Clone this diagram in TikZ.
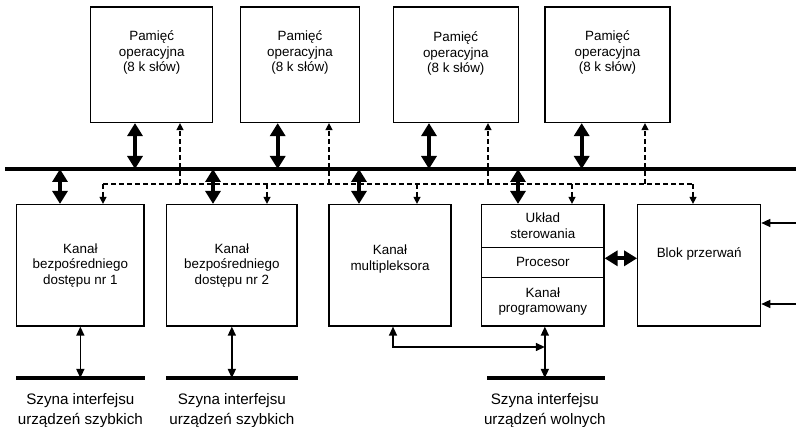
\documentclass[tikz,border=0pt]{standalone}
\usepackage{fontspec}
\setmainfont{Liberation Sans}
\usetikzlibrary{arrows.meta}

\begin{document}
\begin{tikzpicture}[x=1pt,y=-1pt]
        \tikzstyle{every node}=[font=\fontsize{13.4}{15.5}\selectfont,inner sep=0pt]
        \tikzstyle{box}=[draw,line width=1.2pt,align=center]
        \tikzstyle{txt}=[align=center]
        \tikzstyle{szyna}=[align=center,font=\fontsize{15.2}{20}\selectfont]
        \tikzstyle{bus}=[line width=4.5pt]
        \tikzstyle{fat}=[line width=4pt,{Triangle[length=13pt,width=15pt]}-{Triangle[length=13pt,width=15pt]}]
        \tikzstyle{wire}=[line width=1.3pt,{Triangle[length=9pt,width=8pt]}-{Triangle[length=9pt,width=8pt]}]
        \tikzstyle{wire1}=[line width=1.3pt,-{Triangle[length=9pt,width=8pt]}]
        \tikzstyle{ctl}=[line width=1.3pt,dash pattern=on 5pt off 3pt]
        \tikzstyle{ctlarr}=[ctl,-{Triangle[length=7pt,width=7pt]}]

        \useasboundingbox (0,0) rectangle (796,427);

        \coordinate (busL) at (5,169);
        \coordinate (busR) at (796,169);
        \coordinate (bus) at (0,169);
        \coordinate (ctrl) at (0,184);
        \coordinate (mux) at (0,347);
        \coordinate (sbus) at (0,378);
        \coordinate (capy) at (0,411);
        \coordinate (in1) at (796,223);
        \coordinate (in2) at (796,304);

        % pamieci
        \node[box,minimum width=122pt,minimum height=115.5pt] (m1) at (151.7,64.75) {};
        \node[box,minimum width=118.6pt,minimum height=115.5pt] (m2) at (300,64.75) {};
        \node[box,minimum width=125pt,minimum height=115.5pt] (m3) at (455.8,64.75) {};
        \node[box,minimum width=125pt,minimum height=115.5pt] (m4) at (607.5,64.75) {};
        \node[txt] (m1t) at ([yshift=12pt]m1.center) {Pamięć\\operacyjna\\(8 k słów)};
        \node[txt] (m2t) at ([yshift=12pt]m2.center) {Pamięć\\operacyjna\\(8 k słów)};
        \node[txt] (m3t) at ([yshift=11pt]m3.center) {Pamięć\\operacyjna\\(8 k słów)};
        \node[txt] (m4t) at ([yshift=12pt]m4.center) {Pamięć\\operacyjna\\(8 k słów)};

        % kanaly
        \node[box,minimum width=127.3pt,minimum height=121.5pt] (k1) at (80.35,265.25) {Kanał\\bezpośredniego\\dostępu nr 1};
        \node[box,minimum width=130.3pt,minimum height=121.5pt] (k2) at (231.85,265.25) {Kanał\\bezpośredniego\\dostępu nr 2};
        \node[box,minimum width=122pt,minimum height=121.5pt] (km) at (390,265.25) {};
        \node[txt] (kmt) at ([yshift=6pt]km.center) {Kanał\\multipleksora};
        \node[box,minimum width=122.3pt,minimum height=42.8pt] (uk) at (542.85,225.9) {Układ\\sterowania};
        \node[box,minimum width=122.3pt,minimum height=30pt] (pr) at (542.85,262.3) {Procesor};
        \node[box,minimum width=122.3pt,minimum height=48.7pt] (kp) at (542.85,301.65) {Kanał\\programowany};
        \node[box,minimum width=123pt,minimum height=121.5pt] (blok) at (699.2,265.25) {};
        \node[txt] (blokt) at ([yshift=11pt]blok.center) {Blok przerwań};

        % sterowanie
        \draw[ctl] ([xshift=22.65pt]k1.north |- ctrl) -- ([xshift=-6.2pt]blok.north |- ctrl);
        \draw[ctlarr] ([xshift=28.3pt]m1.south |- ctrl) -- ([xshift=28.3pt]m1.south);
        \draw[ctlarr] ([xshift=29pt]m2.south |- ctrl) -- ([xshift=29pt]m2.south);
        \draw[ctlarr] ([xshift=32.2pt]m3.south |- ctrl) -- ([xshift=32.2pt]m3.south);
        \draw[ctlarr] ([xshift=37.5pt]m4.south |- ctrl) -- ([xshift=37.5pt]m4.south);
        \draw[ctlarr] ([xshift=22.65pt]k1.north |- ctrl) -- ([xshift=22.65pt]k1.north);
        \draw[ctlarr] ([xshift=35.15pt]k2.north |- ctrl) -- ([xshift=35.15pt]k2.north);
        \draw[ctlarr] ([xshift=27pt]km.north |- ctrl) -- ([xshift=27pt]km.north);
        \draw[ctlarr] ([xshift=29.15pt]uk.north |- ctrl) -- ([xshift=29.15pt]uk.north);
        \draw[ctlarr] ([xshift=-6.2pt]blok.north |- ctrl) -- ([xshift=-6.2pt]blok.north);

        % szyna glowna
        \draw[bus] (busL) -- (busR);
        \draw[fat] ([xshift=-16.7pt]m1.south) -- ([xshift=-16.7pt]m1.south |- bus);
        \draw[fat] ([xshift=-22.3pt]m2.south) -- ([xshift=-22.3pt]m2.south |- bus);
        \draw[fat] ([xshift=-26.8pt]m3.south) -- ([xshift=-26.8pt]m3.south |- bus);
        \draw[fat] ([xshift=-25.8pt]m4.south) -- ([xshift=-25.8pt]m4.south |- bus);
        \draw[fat] ([xshift=-20.35pt]k1.north |- bus) -- ([xshift=-20.35pt]k1.north);
        \draw[fat] ([xshift=-18.85pt]k2.north |- bus) -- ([xshift=-18.85pt]k2.north);
        \draw[fat] ([xshift=-31pt]km.north |- bus) -- ([xshift=-31pt]km.north);
        \draw[fat] ([xshift=-24.85pt]uk.north |- bus) -- ([xshift=-24.85pt]uk.north);
        \draw[fat] ([yshift=4pt]pr.east) -- ([yshift=4pt]pr.east -| blok.west);

        % przerwania
        \draw[wire1] (in1) -- (blok.east |- in1);
        \draw[wire1] (in2) -- (blok.east |- in2);

        % szyny interfejsu
        \draw[wire] (k1.south) -- (k1.south |- sbus);
        \draw[wire] (k2.south) -- (k2.south |- sbus);
        \draw[wire] ([xshift=2pt]kp.south) -- ([xshift=2pt]kp.south |- sbus);
        \draw[wire] ([xshift=3pt]km.south) |- ([xshift=2pt]kp.south |- mux);
        \draw[bus] (k1.south west |- sbus) -- (k1.south east |- sbus);
        \draw[bus] (k2.south west |- sbus) -- (k2.south east |- sbus);
        \draw[bus] ([xshift=6pt]kp.south west |- sbus) -- (kp.south east |- sbus);
        \node[szyna] (s1) at (k1.south |- capy) {Szyna interfejsu\\urządzeń szybkich};
        \node[szyna] (s2) at (k2.south |- capy) {Szyna interfejsu\\urządzeń szybkich};
        \node[szyna] (s3) at ([xshift=2pt]kp.south |- capy) {Szyna interfejsu\\urządzeń wolnych};
\end{tikzpicture}
\end{document}
